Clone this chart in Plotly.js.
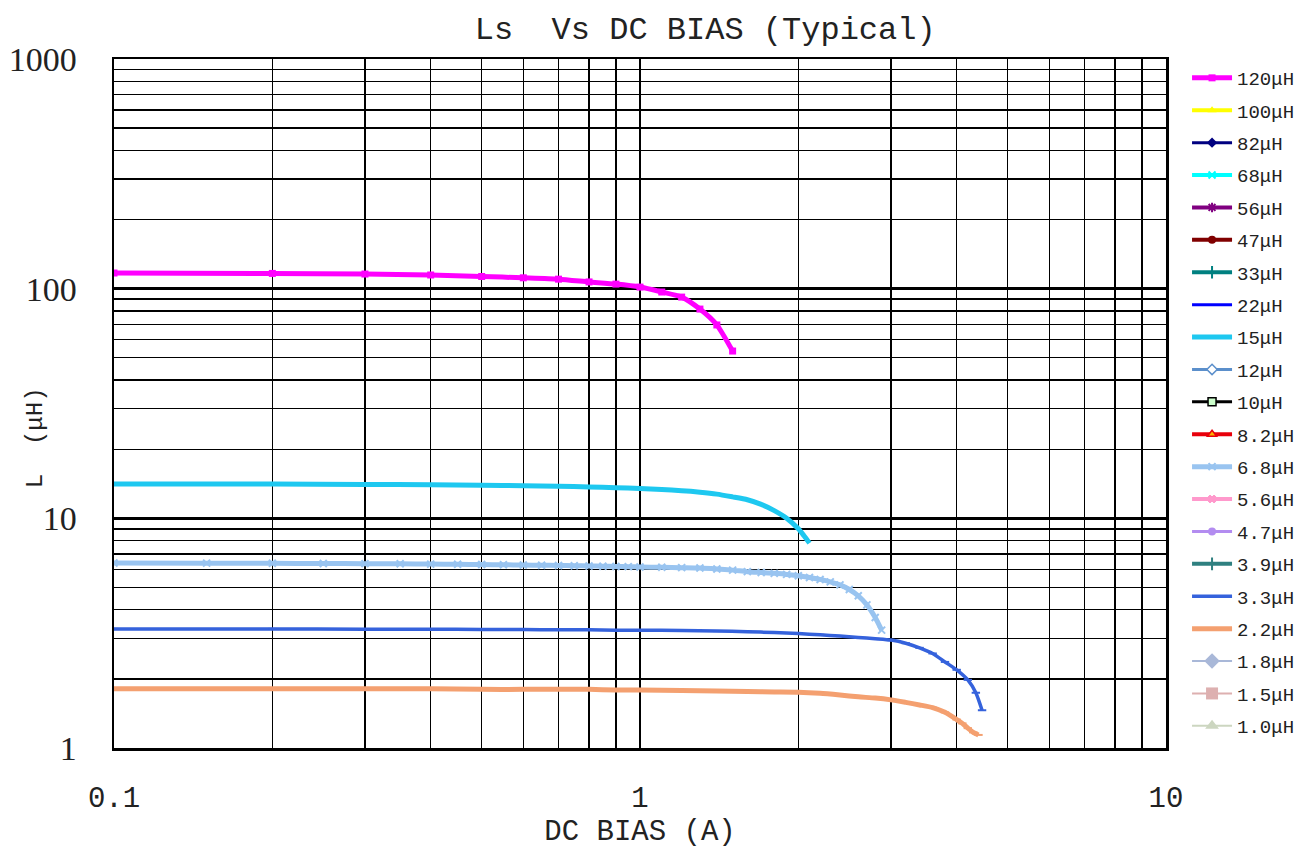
<!DOCTYPE html>
<html>
<head>
<meta charset="utf-8">
<script src="https://cdn.plot.ly/plotly-3.0.1.min.js"></script>
<style>html,body{margin:0;padding:0;background:#fff;}#chart{width:1306px;height:854px;}</style>
</head>
<body>
<div id="chart"></div>
<script>
// ---- data ----
const seriesNames = ["120μH","100μH","82μH","68μH","56μH","47μH","33μH","22μH","15μH","12μH","10μH","8.2μH","6.8μH","5.6μH","4.7μH","3.9μH","3.3μH","2.2μH","1.8μH","1.5μH","1.0μH"];

const x120 = [0.1,0.2,0.3,0.4,0.5,0.6,0.7,0.8,0.9,1.0,1.1,1.2,1.3,1.4,1.5];
const y120 = [117,116.5,115.8,114.7,113,111.5,110,107,104.7,101.6,96.7,91.9,81.5,69.5,53.5];

const x15 = [0.1,0.2,0.3,0.4,0.5,0.6,0.7,0.8,0.9,1.0,1.1,1.2,1.3,1.4,1.5,1.6,1.7,1.8,1.9,2.0,2.05,2.1];
const y15 = [14.1,14.1,14.05,14.0,13.95,13.85,13.8,13.7,13.6,13.5,13.35,13.2,13.0,12.75,12.4,12.05,11.5,10.8,10.0,9.0,8.4,7.8];

const x6p8 = [0.1,0.15,0.2,0.25,0.3,0.35,0.4,0.45,0.5,0.55,0.6,0.65,0.7,0.75,0.8,0.85,0.9,0.95,1.0,1.1,1.2,1.3,1.4,1.5,1.6,1.7,1.8,1.9,2.0,2.1,2.2,2.3,2.4,2.5,2.6,2.7,2.8,2.88];
const y6p8 = [6.39,6.38,6.37,6.36,6.35,6.34,6.32,6.31,6.29,6.28,6.26,6.25,6.23,6.22,6.2,6.19,6.17,6.16,6.14,6.12,6.1,6.08,6.02,5.95,5.86,5.81,5.76,5.7,5.62,5.53,5.42,5.29,5.13,4.9,4.6,4.2,3.7,3.26];

const x3p3 = [0.1,0.2,0.3,0.4,0.5,0.6,0.7,0.8,0.9,1.0,1.2,1.4,1.6,1.8,2.0,2.2,2.4,2.6,2.8,3.0,3.2,3.4,3.6,3.8,4.0,4.2,4.35,4.47];
const y3p3 = [3.30,3.30,3.29,3.29,3.28,3.28,3.27,3.27,3.26,3.26,3.25,3.23,3.21,3.18,3.15,3.11,3.07,3.03,2.99,2.95,2.86,2.73,2.58,2.37,2.19,1.98,1.74,1.46];

const x2p2 = [0.1,0.2,0.3,0.4,0.5,0.6,0.7,0.8,0.9,1.0,1.2,1.4,1.6,1.8,2.0,2.2,2.4,2.6,2.8,3.0,3.2,3.4,3.6,3.8,4.0,4.1,4.2,4.3,4.4];
const y2p2 = [1.81,1.81,1.81,1.81,1.80,1.80,1.80,1.80,1.79,1.79,1.78,1.77,1.76,1.755,1.75,1.73,1.70,1.67,1.65,1.62,1.58,1.54,1.50,1.43,1.33,1.28,1.22,1.17,1.14];

const empty = [];
const seriesX = [x120,empty,empty,empty,empty,empty,empty,empty,x15,empty,empty,empty,x6p8,empty,empty,empty,x3p3,x2p2,empty,empty,empty];
const seriesY = [y120,empty,empty,empty,empty,empty,empty,empty,y15,empty,empty,empty,y6p8,empty,empty,empty,y3p3,y2p2,empty,empty,empty];

const xTickVals = [0.1,1,10];
const xTickText = ["0.1","1","10"];
const yTickVals = [1,10,100,1000];
const yTickText = ["1","10","100","1000"];

// ---- styles ----
const styles = [
  {c:"#FF00FF", s:"square", ms:7, lw:5},
  {c:"#FFFF00", s:"triangle-up", ms:8, lw:4},
  {c:"#000080", s:"diamond", ms:8, lw:3},
  {c:"#00FFFF", s:"x-thin", ms:7, lw:4},
  {c:"#800080", s:"asterisk", ms:8, lw:4},
  {c:"#800000", s:"circle", ms:8, lw:4},
  {c:"#008080", s:"cross-thin", ms:9, lw:4},
  {c:"#0000FF", s:"circle", ms:0, lw:3},
  {c:"#1EC8F0", s:"circle", ms:0, lw:5},
  {c:"#5B8FCB", s:"diamond", ms:8, lw:3, fill:"#FFFFFF"},
  {c:"#000000", s:"square", ms:8, lw:3, fill:"#CCFFCC"},
  {c:"#E8000B", s:"triangle-up", ms:8, lw:4, fill:"#FFB000"},
  {c:"#99C4F0", s:"x-thin", ms:7, lw:5},
  {c:"#FF99CC", s:"hash", ms:8, lw:4},
  {c:"#B38CF0", s:"circle", ms:8, lw:3},
  {c:"#2F8080", s:"cross-thin", ms:9, lw:4},
  {c:"#3562DC", s:"line-ew", ms:6, lw:3.5},
  {c:"#F4A070", s:"line-ew", ms:6, lw:5},
  {c:"#A9B8D8", s:"diamond", ms:12, lw:2},
  {c:"#DDB0B0", s:"square", ms:12, lw:2},
  {c:"#CCD6C0", s:"triangle-up", ms:12, lw:2}
];

const traces = seriesNames.map((name, i) => {
  const st = styles[i];
  const hasData = seriesX[i].length > 0;
  return {
    type: "scatter",
    mode: st.ms > 0 ? "lines+markers" : "lines",
    name: name,
    legendgroup: "g" + i,
    x: hasData ? seriesX[i] : [null],
    y: hasData ? seriesY[i] : [null],
    line: {color: st.c, width: st.lw, shape: "spline", smoothing: 0.6},
    marker: {
      symbol: st.s, size: st.ms || 1,
      color: st.fill || st.c,
      line: {color: st.c, width: (st.s.indexOf("thin") >= 0 || st.s === "asterisk" || st.s === "hash" || st.s === "line-ew") ? 2 : (st.fill ? 1.5 : 0)}
    }
  };
});

function minorVals(lo, hi) {
  const v = [];
  for (let e = lo; e < hi; e++) for (let k = 2; k <= 9; k++) v.push(k * Math.pow(10, e));
  return v;
}

const layout = {
  width: 1306, height: 854,
  paper_bgcolor: "#fff", plot_bgcolor: "#fff",
  margin: {l: 114, r: 140, t: 59, b: 106, autoexpand: false},
  showlegend: true,
  title: {
    text: "Ls  Vs DC BIAS (Typical)",
    font: {family: "Liberation Mono", size: 32, color: "#222"},
    x: 0.562, xref: "paper", xanchor: "center",
    y: 1 - 28/854, yref: "container", yanchor: "middle"
  },
  xaxis: {
    type: "log", range: [-1, 1], automargin: false,
    tickmode: "array", tickvals: xTickVals, ticktext: xTickText,
    tickfont: {family: "Liberation Mono", size: 29, color: "#222"},
    ticks: "", ticklabelstandoff: 22,
    showgrid: true, gridcolor: "#000", gridwidth: 2,
    minor: {tickmode: "array", tickvals: minorVals(-1, 1), showgrid: true, gridcolor: "#000", gridwidth: 1.4, ticks: ""},
    showline: true, linecolor: "#000", linewidth: 2.5, mirror: true,
    zeroline: false,
    title: {text: "DC BIAS (A)", font: {family: "Liberation Mono", size: 29, color: "#222"}, standoff: 2}
  },
  yaxis: {
    type: "log", range: [0, 3], automargin: false,
    tickmode: "array", tickvals: yTickVals, ticktext: yTickText,
    tickfont: {family: "Liberation Serif", size: 34, color: "#222"},
    ticks: "", ticklabelstandoff: 28,
    showgrid: true, gridcolor: "#000", gridwidth: 3,
    minor: {tickmode: "array", tickvals: minorVals(0, 3), showgrid: true, gridcolor: "#000", gridwidth: 1.4, ticks: ""},
    showline: true, linecolor: "#000", linewidth: 2.5, mirror: true,
    zeroline: false
  },
  legend: {
    x: 1.02, xanchor: "left", y: 1.0, yanchor: "top",
    traceorder: "grouped", tracegroupgap: 4.7,
    itemwidth: 40,
    font: {family: "Liberation Mono", size: 19, color: "#222"},
    bgcolor: "rgba(0,0,0,0)"
  },
  annotations: [{
    text: "L  (μH)", textangle: -90,
    xref: "paper", yref: "paper", x: -0.0751, y: 0.451,
    xanchor: "center", yanchor: "middle", showarrow: false,
    font: {family: "Liberation Mono", size: 24, color: "#222"}
  }]
};

Plotly.newPlot("chart", traces, layout, {displayModeBar: false, staticPlot: true});
</script>
</body>
</html>
